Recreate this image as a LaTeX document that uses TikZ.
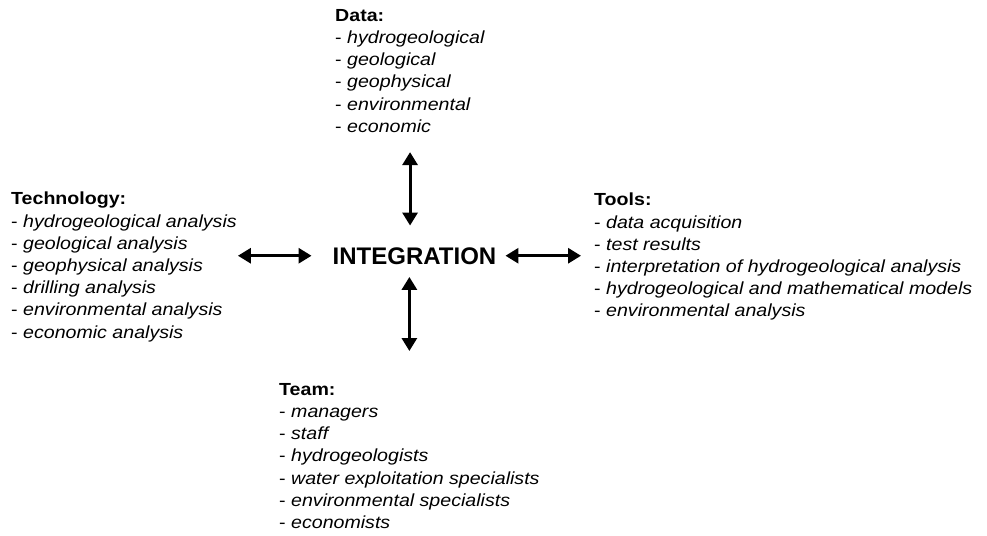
\documentclass[tikz,border=0pt]{standalone}
\usepackage{fontspec}
\setmainfont[FakeStretch=1.12]{Liberation Sans}
\newfontfamily\integfont{Liberation Sans}
\usetikzlibrary{arrows.meta}

\begin{document}
\begin{tikzpicture}[x=1pt, y=-1pt,
  block/.style={anchor=north west, inner sep=0pt, align=left, font=\fontsize{17.5}{22.2}\selectfont},
  biarrow/.style={{Triangle[length=13pt,width=15pt]}-{Triangle[length=13pt,width=15pt]}, line width=3pt}]

\useasboundingbox (0,0) rectangle (987,535);

%%%%%%%%%%%%%%%%%%%% Centre %%%%%%%%%%%%%%%%%%%%%%%%%%

\node[inner sep=0pt, anchor=base, font=\integfont\fontsize{24}{24}\selectfont\bfseries] (integ) at (414.5,264) {INTEGRATION};

%%%%%%%%%%%%%%%%%%%% Blocks %%%%%%%%%%%%%%%%%%%%%%%%%%

%data, top
\node[block] (data) at (335,9) {\textbf{Data:}\\
- \textit{hydrogeological}\\
- \textit{geological}\\
- \textit{geophysical}\\
- \textit{environmental}\\
- \textit{economic}};

%technology, left
\node[block] (tech) at (11,192) {\textbf{Technology:}\\
- \textit{hydrogeological analysis}\\
- \textit{geological analysis}\\
- \textit{geophysical analysis}\\
- \textit{drilling analysis}\\
- \textit{environmental analysis}\\
- \textit{economic analysis}};

%tools, right
\node[block] (tools) at (594,193) {\textbf{Tools:}\\
- \textit{data acquisition}\\
- \textit{test results}\\
- \textit{interpretation of hydrogeological analysis}\\
- \textit{hydrogeological and mathematical models}\\
- \textit{environmental analysis}};

%team, bottom
\node[block] (team) at (279,383) {\textbf{Team:}\\
- \textit{managers}\\
- \textit{staff}\\
- \textit{hydrogeologists}\\
- \textit{water exploitation specialists}\\
- \textit{environmental specialists}\\
- \textit{economists}};

%%%%%%%%%%%%%%%%%%%% Arrows %%%%%%%%%%%%%%%%%%%%%%%%%%

\draw[biarrow, shorten <=19.5pt, shorten >=21.5pt] (data.south) -- (data.south |- integ.north);
\draw[biarrow, shorten <=12.5pt, shorten >=32pt] (team.north |- integ.south) -- (team.north);
\draw[biarrow, shorten <=21pt, shorten >=1pt] (integ.west) -- (integ.west -| tech.east);
\draw[biarrow, shorten <=9pt, shorten >=13pt] (integ.east) -- (integ.east -| tools.west);

\end{tikzpicture}
\end{document}
